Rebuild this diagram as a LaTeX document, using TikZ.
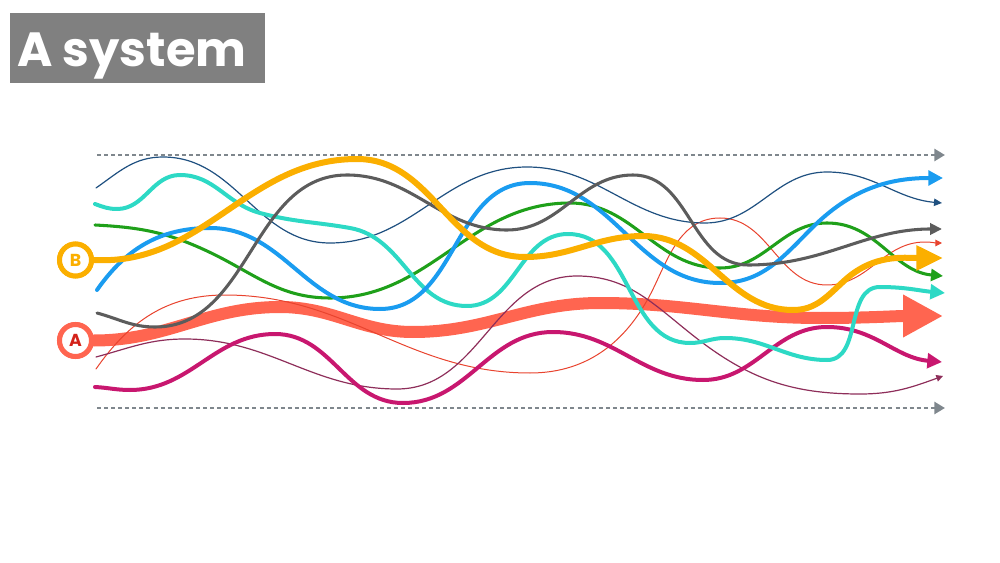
\documentclass[tikz,border=0pt]{standalone}
\usepackage{fontspec}
\setmainfont{Poppins}
\usetikzlibrary{arrows.meta}
\definecolor{navyc}{HTML}{1F5080}
\definecolor{turq}{HTML}{2DD9C5}
\definecolor{greenc}{HTML}{1FA01A}
\definecolor{bluec}{HTML}{1A9CF0}
\definecolor{grayc}{HTML}{5C5C5C}
\definecolor{orangec}{HTML}{FBAF00}
\definecolor{coralc}{HTML}{FF6550}
\definecolor{redc}{HTML}{E8432E}
\definecolor{purplec}{HTML}{8E2E5A}
\definecolor{magc}{HTML}{C8176F}
\definecolor{dashc}{HTML}{7F878D}
\definecolor{titlebg}{HTML}{808080}
\definecolor{letterA}{HTML}{D4221A}
\tikzset{
  flow/.style={line cap=round, line join=round, out=0, in=180},
  bound/.style={dashc, line width=2.2pt, dash pattern=on 3pt off 2.3pt, -{Triangle[length=8pt,width=9pt]}},
  ring/.style={circle, draw=#1, line width=3.75pt, fill=white, minimum size=24pt, inner sep=0pt, font=\bfseries\fontsize{13}{13}\selectfont},
}
\begin{document}
\begin{tikzpicture}[x=0.75pt,y=-0.75pt]
\useasboundingbox (0,0) rectangle (1000,563);
% title
\fill[titlebg] (10,13) rectangle (265,83);
\node[anchor=base west, inner sep=0pt, text=white, font=\bfseries\fontsize{36}{36}\selectfont] (title) at (17,67) {A system};
% dashed bounds
\coordinate (t1) at (97,155); \coordinate (t2) at (945,155);
\coordinate (b1) at (97,408); \coordinate (b2) at (945,408);
\draw[bound] (t1) -- (t2);
\draw[bound] (b1) -- (b2);
% nodes
\node[ring=orangec, text=orangec] (B) at (75.5,260) {B};
\node[ring=coralc, text=letterA] (A) at (75.5,340.5) {A};
% coral thick
\draw[flow, coralc, line width=9pt, -{Triangle[length=30pt,width=30pt]}]
  (A.east) to (280,307) to (413,332) to (600,303) to (820,318) to (943,316);
% red thin
\draw[flow, redc, line width=0.75pt, -{Triangle[length=5pt,width=5pt]}]
  (96,369) to[out=55] (225,295) to (530,373) to[in=245] (655,285) to[out=65] (720,218) to (827,285) to (925,242) to (942,243);
% purple thin
\draw[flow, purplec, line width=0.9pt, -{Triangle[length=5pt,width=5pt]}]
  (96,357) to[out=15] (185,339) to (397,389) to (577,276) to[in=142] (695,337) to[out=-38] (860,394) to[in=200] (943,376);
% navy thin
\draw[flow, navyc, line width=0.9pt, -{Triangle[length=6pt,width=5.5pt]}]
  (96,188) to[out=35] (163,157) to (330,243) to (527,167) to (705,223) to (827,172) to[in=175] (942,203);
% magenta
\draw[flow, magc, line width=3pt, -{Triangle[length=11pt,width=11pt]}]
  (95,387) to[out=-3] (130,390) to (275,334) to (403,403) to (553,332) to (703,380) to (827,327) to[in=175] (942,362);
% green
\draw[flow, greenc, line width=2.3pt, -{Triangle[length=9pt,width=9pt]}]
  (95,225) to[out=-3,in=155] (207,251) to[out=-25] (330,298) to (570,203) to (720,268) to (827,223) to[in=175] (943,276);
% turquoise
\draw[flow, turq, line width=3pt, -{Triangle[length=11pt,width=11pt]}]
  (95,204) to[out=-20] (117,209) to (180,175) to[in=165] (260,213) to[out=-15,in=170] (350,228) to[out=-10] (467,306) to (568,234) to (690,343) to (725,338) to (827,360) to (880,287) to[in=175] (945,293);
% blue
\draw[flow, bluec, line width=3pt, -{Triangle[length=11pt,width=11pt]}]
  (97,290) to[out=55] (210,228) to (380,309) to (530,183) to (720,283) to[in=225] (812,228) to[out=45] (943,178);
% gray
\draw[flow, grayc, line width=2.3pt, -{Triangle[length=9pt,width=8.5pt]}]
  (97,313) to[out=-15] (155,327) to (347,175) to (507,230) to (633,175) to (748,265) to (942,229);
% orange thick
\draw[flow, orangec, line width=4.5pt, -{Triangle[length=20pt,width=18pt]}]
  (B.east) to[out=-3] (357,159) to (525,257) to (643,236) to (793,310) to[in=222] (845,280) to[out=42] (943,258);
% redraw nodes on top
\node[ring=orangec, text=orangec] at (B) {B};
\node[ring=coralc, text=letterA] at (A) {A};
\end{tikzpicture}
\end{document}
